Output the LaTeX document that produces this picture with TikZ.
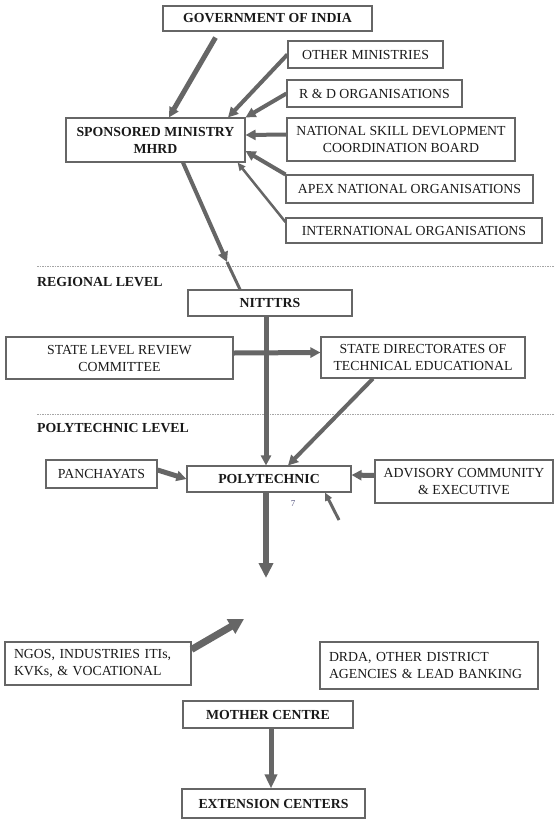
\documentclass[tikz,border=0pt]{standalone}
\usepackage{fontspec}
\setmainfont{Liberation Serif}
\usepackage{tikz}
\usetikzlibrary{arrows.meta,positioning}

\begin{document}
\begin{tikzpicture}[
    x=1pt,y=-1pt,
    b/.style={draw=black!60,line width=1.1pt,minimum height=27pt,inner sep=2pt,align=center,text=black!90,font=\fontsize{13.8}{17}\selectfont},
    hb/.style={b,font=\fontsize{13.8}{17}\selectfont\bfseries},
    lb/.style={b,align=left,inner xsep=9pt},
    lvl/.style={anchor=west,inner sep=0pt,text=black!90,font=\fontsize{13.8}{15}\selectfont\bfseries},
    arr/.style={->,draw=black!60,line width=4pt},
    sep/.style={draw=black!35,line width=0.7pt,dash pattern=on 1.5pt off 1pt},
    >={Triangle[length=10pt,width=10pt]}
  ]
    \useasboundingbox (0,0) rectangle (554,820);

    % national level
    \node[hb,minimum width=209pt,minimum height=25pt] (gov) at (267.5,18.5) {GOVERNMENT OF INDIA};
    \node[b,minimum width=155pt] (othmin) at (365.5,54.5) {OTHER MINISTRIES};
    \node[b,minimum width=175pt] (rnd) at (374.5,93.5) {R \& D ORGANISATIONS};
    \node[hb,minimum width=179pt,minimum height=44pt] (spons) at (155.5,140) {SPONSORED MINISTRY\\MHRD};
    \node[b,minimum width=228pt,minimum height=43pt] (nsdcb) at (401,139.5) {NATIONAL SKILL DEVLOPMENT\\COORDINATION BOARD};
    \node[b,minimum width=247pt,minimum height=28pt] (apex) at (409.5,189) {APEX NATIONAL ORGANISATIONS};
    \node[b,minimum width=256pt,minimum height=25pt] (intl) at (414,230.5) {INTERNATIONAL ORGANISATIONS};

    \draw[sep] (37,266) -- (554,266);
    \node[lvl] (reglvl) at (37,282) {REGIONAL LEVEL};

    % regional level
    \node[hb,minimum width=164pt,minimum height=26pt] (nitttrs) at (270,303) {NITTTRS};
    \node[b,minimum width=227pt,minimum height=42pt] (slrc) at (119.5,358) {STATE LEVEL REVIEW\\COMMITTEE};
    \node[b,minimum width=204pt,minimum height=41pt] (sdte) at (423,357.5) {STATE DIRECTORATES OF\\TECHNICAL EDUCATIONAL};

    \draw[sep] (37,414) -- (554,414);
    \node[lvl] (polylvl) at (37,428) {POLYTECHNIC LEVEL};

    % polytechnic level
    \node[b,minimum width=111pt,minimum height=28pt] (panch) at (101.5,474) {PANCHAYATS};
    \node[hb,minimum width=164pt,minimum height=26pt] (poly) at (269,479) {POLYTECHNIC};
    \node[b,minimum width=178pt,minimum height=43pt] (advis) at (464,481.5) {ADVISORY COMMUNITY\\\& EXECUTIVE};
    \node[text=blue!25!black!65,font=\fontsize{9}{10}\selectfont] (seven) at (293,504) {7};

    \node[lb,text width=168pt,minimum height=43pt] (ngos) at (98,663.5) {NGOS, INDUSTRIES ITIs,\\KVKs, \& VOCATIONAL};
    \node[lb,text width=200pt,minimum height=47pt] (drda) at (429,665.5) {DRDA, OTHER DISTRICT\\AGENCIES \& LEAD BANKING};
    \node[hb,minimum width=170pt,minimum height=27pt] (mother) at (268,714.5) {MOTHER CENTRE};
    \node[hb,minimum width=183pt,minimum height=29pt] (ext) at (273.5,803.5) {EXTENSION CENTERS};

    \coordinate (mid) at (227,262);
    \coordinate (polyout) at (266,578);
    \coordinate (stub) at (339,520);
    \coordinate (ngoshead) at (244,619);

    \draw[arr,line width=5pt] ([xshift=-52pt,yshift=-6pt]gov.south) -- ([xshift=13.5pt]spons.north);
    \draw[arr] (othmin.west) -- ([xshift=72.5pt]spons.north);
    \draw[arr] (rnd.west) -- (spons.north east);
    \draw[arr] ([yshift=5pt]nsdcb.west) -- ([yshift=5pt]spons.east);
    \draw[arr] (apex.north west) -- ([yshift=-11pt]spons.east);
    \draw[arr,line width=2.5pt,-{Triangle[length=8pt,width=7pt]}] ([yshift=8.5pt]intl.west) -- ([xshift=-8pt]spons.south east);
    \draw[arr] ([xshift=27.5pt]spons.south) -- (mid);
    \draw[draw=black!60,line width=3pt] (mid) -- ([xshift=-30pt]nitttrs.north);

    \draw[arr,line width=5pt] ([yshift=5pt]slrc.east) -- ([yshift=5pt]sdte.west);
    \draw[arr,line width=5pt] ([xshift=-4pt]nitttrs.south) -- ([xshift=-3pt]poly.north);
    \draw[arr] ([xshift=-50pt]sdte.south) -- ([xshift=19pt]poly.north);

    \draw[arr,line width=5pt] ([yshift=4pt]panch.east) -- (poly.west);
    \draw[arr,line width=5pt] ([yshift=6pt]advis.west) -- ([yshift=4pt]poly.east);
    \draw[arr,line width=6pt,-{Triangle[length=15pt,width=14pt]}] ([xshift=-3pt]poly.south) -- (polyout);
    \draw[arr,line width=3pt,-{Triangle[length=8pt,width=7pt]}] (stub) -- ([xshift=56pt]poly.south);

    \draw[arr,line width=7pt,-{Triangle[length=15pt,width=16pt]}] ([yshift=-8pt]ngos.north east) -- (ngoshead);
    \draw[arr,line width=5pt,-{Triangle[length=14pt,width=12pt]}] ([xshift=3pt]mother.south) -- ([xshift=-2.5pt]ext.north);
  \end{tikzpicture}
\end{document}
